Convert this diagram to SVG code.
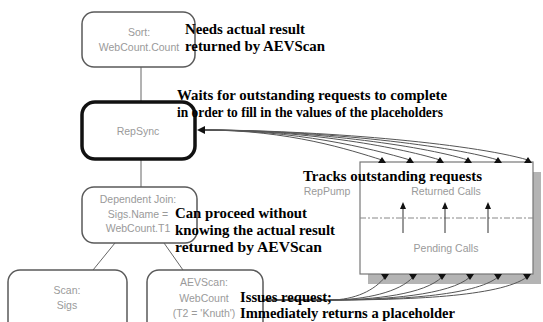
<svg xmlns="http://www.w3.org/2000/svg" width="543" height="322" viewBox="0 0 543 322">
<style>
.node{fill:#fff;stroke:#5a5a5a;stroke-width:1.5}
.thick{fill:#fff;stroke:#111;stroke-width:3.5}
.gl{font-family:"Liberation Sans",Arial,sans-serif;font-size:10.5px;fill:#9a9a9a;text-anchor:middle}
.ann{font-family:"Liberation Serif","Times New Roman",serif;font-size:14px;font-weight:bold;fill:#000}
.edge{fill:none;stroke:#666;stroke-width:1}
.fan{fill:none;stroke:#555;stroke-width:1}
.tri{fill:#111}
</style>
<rect x="0" y="0" width="543" height="322" fill="#fff"/>
<g id="connectors">
<line class="edge" x1="141" y1="67" x2="141" y2="102"/>
<line class="edge" x1="141" y1="159" x2="141" y2="187"/>
<line class="edge" x1="115" y1="243" x2="93" y2="270"/>
<line class="edge" x1="164" y1="243" x2="183" y2="270"/>
</g>
<g id="RepPump">
<rect x="368" y="172" width="173" height="112" fill="#b4b4b4"/>
<rect x="360" y="162" width="173" height="112" fill="#fff" stroke="#777" stroke-width="1.2"/>
<line x1="360" y1="218" x2="533" y2="218" stroke="#888" stroke-width="1" stroke-dasharray="6,2,2,2"/>
<text class="gl" x="327" y="195">RepPump</text>
<text class="gl" x="446" y="195">Returned Calls</text>
<text class="gl" x="446" y="252">Pending Calls</text>
<g stroke="#333" stroke-width="1">
<line x1="403" y1="233" x2="403" y2="208"/>
<line x1="445" y1="233" x2="445" y2="208"/>
<line x1="488" y1="233" x2="488" y2="208"/>
</g>
<path class="tri" d="M400,209 L403,202 L406,209 Z M442,209 L445,202 L448,209 Z M485,209 L488,202 L491,209 Z"/>
</g>
<g id="fan-top">
<path class="fan" d="M203,130 C290,130 350,150 382,160"/>
<path class="fan" d="M203,130 C295,130 370,148 410,160"/>
<path class="fan" d="M203,130 C300,130 395,146 440,160"/>
<path class="fan" d="M203,130 C305,130 420,145 468,160"/>
<path class="fan" d="M203,130 C310,130 445,144 498,160"/>
<path class="fan" d="M203,130 C315,130 470,143 528,160"/>
<path class="tri" d="M378,163 L382,157 L386,163 Z M406,163 L410,157 L414,163 Z M436,163 L440,157 L444,163 Z M464,163 L468,157 L472,163 Z M494,163 L498,157 L502,163 Z M524,163 L528,157 L532,163 Z"/>
<path class="tri" d="M197,130 L205,126 L205,134 Z"/>
</g>
<g id="fan-bottom">
<path class="fan" d="M263,300 L330,300 C355,300 375,290 385,277"/>
<path class="fan" d="M263,300 L330,300 C365,300 400,292 413,277"/>
<path class="fan" d="M263,300 L330,300 C375,300 425,294 442,277"/>
<path class="fan" d="M263,300 L330,300 C385,300 450,295 470,277"/>
<path class="fan" d="M263,300 L330,300 C395,300 475,296 498,277"/>
<path class="fan" d="M263,300 L330,300 C405,300 500,297 527,277"/>
<path class="tri" d="M381,274 L389,274 L385,280 Z M409,274 L417,274 L413,280 Z M438,274 L446,274 L442,280 Z M466,274 L474,274 L470,280 Z M494,274 L502,274 L498,280 Z M523,274 L531,274 L527,280 Z"/>
</g>
<g id="Sort">
<rect class="node" x="82" y="12" width="113" height="55" rx="12"/>
<text class="gl" x="139" y="36">Sort:</text>
<text class="gl" x="139" y="51">WebCount.Count</text>
</g>
<g id="RepSync">
<rect class="thick" x="82" y="102" width="113" height="57" rx="13"/>
<text class="gl" x="138" y="135">RepSync</text>
</g>
<g id="DependentJoin">
<rect class="node" x="82" y="187" width="115" height="56" rx="12"/>
<text class="gl" x="138" y="203">Dependent Join:</text>
<text class="gl" x="138" y="218">Sigs.Name =</text>
<text class="gl" x="138" y="232">WebCount.T1</text>
</g>
<g id="ScanSigs">
<rect class="node" x="8" y="270" width="119" height="70" rx="12"/>
<text class="gl" x="67" y="294">Scan:</text>
<text class="gl" x="67" y="309">Sigs</text>
</g>
<g id="AEVScan">
<rect class="node" x="147" y="270" width="116" height="70" rx="12"/>
<text class="gl" x="204" y="286">AEVScan:</text>
<text class="gl" x="204" y="302">WebCount</text>
<text class="gl" x="204" y="317">(T2 = 'Knuth')</text>
</g>
<g id="annotations">
<text class="ann" x="185" y="34" textLength="120" lengthAdjust="spacingAndGlyphs">Needs actual result</text>
<text class="ann" x="185" y="51" textLength="140" lengthAdjust="spacingAndGlyphs">returned by AEVScan</text>
<text class="ann" x="177" y="100" textLength="270" lengthAdjust="spacingAndGlyphs">Waits for outstanding requests to complete</text>
<text class="ann" x="177" y="117" textLength="266" lengthAdjust="spacingAndGlyphs">in order to fill in the values of the placeholders</text>
<text class="ann" x="303" y="181" textLength="179" lengthAdjust="spacingAndGlyphs">Tracks outstanding requests</text>
<text class="ann" x="175" y="218" textLength="132" lengthAdjust="spacingAndGlyphs">Can proceed without</text>
<text class="ann" x="175" y="235" textLength="160" lengthAdjust="spacingAndGlyphs">knowing the actual result</text>
<text class="ann" x="175" y="252" textLength="147" lengthAdjust="spacingAndGlyphs">returned by AEVScan</text>
<text class="ann" x="240" y="302" textLength="92" lengthAdjust="spacingAndGlyphs">Issues request;</text>
<text class="ann" x="240" y="318" textLength="215" lengthAdjust="spacingAndGlyphs">Immediately returns a placeholder</text>
</g>
</svg>
